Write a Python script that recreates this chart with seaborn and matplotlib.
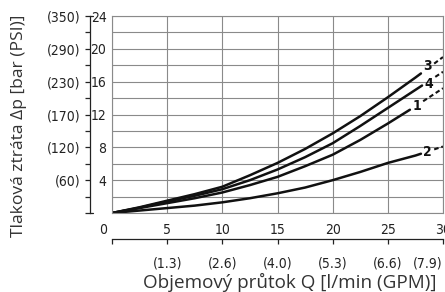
import numpy as np
import matplotlib
matplotlib.use("Agg")
import matplotlib.pyplot as plt
import matplotlib.transforms as mtransforms
import seaborn as sns

# průtok [l/min]
flow = [0, 2.5, 5, 7.5, 10, 12.5, 15, 17.5, 20, 22.5, 25, 27.5, 30]
# tlaková ztráta [bar] pro jednotlivé křivky
curve_1 = [0, 0.6, 1.2, 1.8, 2.5, 3.4, 4.4, 5.7, 7.1, 8.9, 10.9, 13.0, 15.2]
curve_2 = [0, 0.3, 0.6, 0.9, 1.3, 1.8, 2.4, 3.1, 4.0, 5.0, 6.1, 7.0, 8.1]
curve_3 = [0, 0.7, 1.5, 2.3, 3.2, 4.6, 6.1, 7.8, 9.7, 11.8, 14.1, 16.5, 19.0]
curve_4 = [0, 0.65, 1.4, 2.1, 2.9, 4.0, 5.3, 6.8, 8.5, 10.6, 12.8, 15.0, 17.2]
curve_names = ["1", "2", "3", "4"]
# poloha čísla křivky (mezi plnou a čárkovanou částí) a jeho posun
label_at = [27.6, 28.6, 28.6, 28.7]
label_dy = [0.0, 0.0, 0.25, -0.35]

bar_ticks = [4, 8, 12, 16, 20, 24]
psi_labels = ["(60)", "(120)", "(170)", "(230)", "(290)", "(350)"]
lpm_ticks = [0, 5, 10, 15, 20, 25, 30]
gpm_labels = ["", "(1.3)", "(2.6)", "(4.0)", "(5.3)", "(6.6)", "(7.9)"]

sns.set_style("white")
txt_font = ["Open Sans", "DejaVu Sans"]
plt.rcParams["font.family"] = ["DejaVu Sans"]
plt.rcParams["font.stretch"] = "condensed"

fig = plt.figure(figsize=(4.45, 2.92), dpi=100)
ax = fig.add_axes([112 / 445, 1 - 213 / 292, 331 / 445, 197 / 292])

curves = [curve_1, curve_2, curve_3, curve_4]
for name, vals, xl, dy in zip(curve_names, curves, label_at, label_dy):
    x = np.array(flow, dtype=float)
    y = np.array(vals, dtype=float)
    x_s, x_d = xl - 0.6, xl + 0.6
    ys, yl, yd = np.interp([x_s, xl, x_d], x, y)
    m = x < x_s
    sns.lineplot(x=np.r_[x[m], x_s], y=np.r_[y[m], ys], ax=ax, color="#111111",
                 linewidth=1.8, sort=False)
    m2 = x > x_d
    sns.lineplot(x=np.r_[x_d, x[m2]], y=np.r_[yd, y[m2]], ax=ax, color="#111111",
                 linewidth=1.5, linestyle=(0, (2.2, 1.4)), sort=False)
    ax.text(xl, yl + dy, name, ha="center", va="center", fontsize=10, fontweight="bold",
            color="#111111")

ax.set_xlim(0, 30)
ax.set_ylim(0, 24)
ax.set_xticks(lpm_ticks)
ax.set_yticks(bar_ticks)
ax.set_yticks(range(0, 25, 2), minor=True)
ax.grid(True, which="both", color="#8a8a8a", linewidth=0.8)
for s in ax.spines.values():
    s.set_color("#8a8a8a")
    s.set_linewidth(0.8)
ax.tick_params(axis="both", which="both", length=0, labelsize=10, colors="#222222")
ax.tick_params(axis="y", pad=4)
ax.tick_params(axis="x", pad=7)
ax.set_xlabel("")
ax.set_ylabel("")
lab0 = ax.get_xticklabels()[0]
lab0.set_transform(lab0.get_transform() + mtransforms.ScaledTranslation(-9 / 100, 0, fig.dpi_scale_trans))

# vedlejší osa PSI
psi_pos = -22 / 331
psi = ax.secondary_yaxis(psi_pos)
psi.set_yticks(bar_ticks, labels=psi_labels)
psi.set_yticks(range(0, 25, 2), minor=True)
psi.tick_params(axis="y", which="major", length=3.5, width=0.9, pad=3.5, labelsize=10,
                colors="#222222")
psi.tick_params(axis="y", which="minor", length=3.5, width=0.9)
psi.spines["left"].set_linewidth(0.9)
psi.spines["left"].set_color("#222222")
psi.set_ylabel("Tlaková ztráta Δp [bar (PSI)]", family=txt_font, stretch="normal",
               fontsize=12.6, color="#333333")
psi.yaxis.set_label_coords(27 / 445, 1 - 126 / 292, transform=fig.transFigure)
# krátké zakončení osy nahoře a dole
for yv in (0, 24):
    ax.plot([psi_pos, psi_pos + 3 / 331], [yv, yv], transform=ax.get_yaxis_transform(),
            color="#222222", linewidth=0.9, clip_on=False)

# vedlejší osa GPM
gpm = ax.secondary_xaxis(-26 / 197)
gpm.set_xticks(lpm_ticks, labels=gpm_labels)
gpm.tick_params(axis="x", length=3.5, width=0.9, pad=9, labelsize=10, colors="#222222")
gpm.spines["bottom"].set_linewidth(0.9)
gpm.spines["bottom"].set_color("#222222")
last = gpm.get_xticklabels()[-1]
last.set_horizontalalignment("right")
gpm.set_xlabel("Objemový průtok Q [l/min (GPM)]", family=txt_font, stretch="normal",
               fontsize=13.6, color="#333333")
gpm.xaxis.set_label_coords(290 / 445, 1 - 273 / 292, transform=fig.transFigure)

fig.savefig("out.png", dpi=100)
